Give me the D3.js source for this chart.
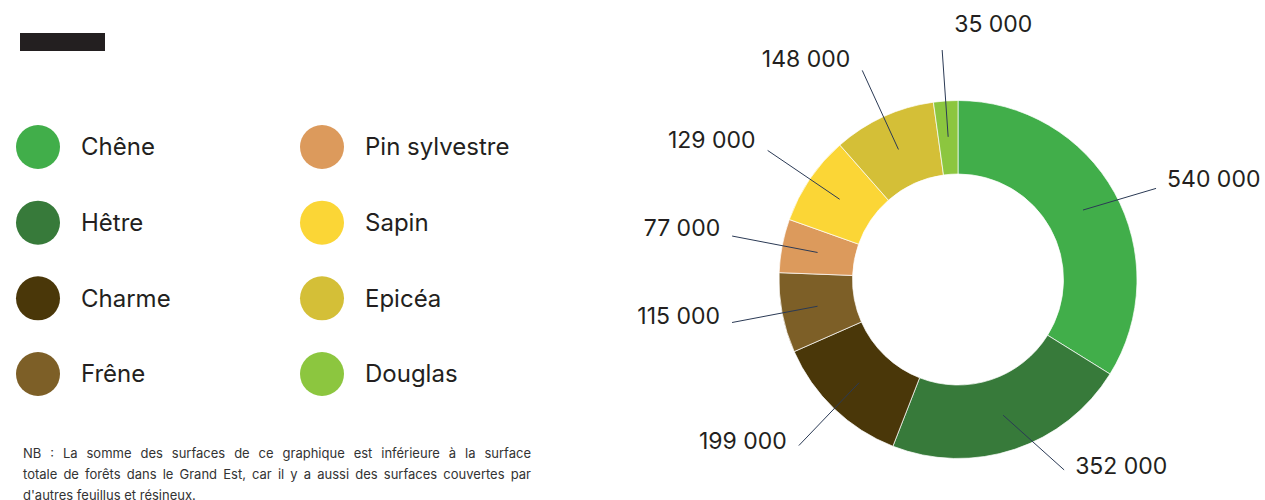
<!DOCTYPE html>
<html lang="fr">
<head>
<meta charset="utf-8">
<script src="https://cdn.jsdelivr.net/npm/d3@7"></script>
<style>
  html, body { margin: 0; padding: 0; background: #fff; }
  #wrap { position: relative; width: 1265px; height: 500px; overflow: hidden; font-family: Inter, "Open Sans", sans-serif; }
  svg { position: absolute; left: 0; top: 0; }
  #note { position: absolute; left: 23px; top: 443px; width: 508px; font-size: 13px; line-height: 21px; color: #333; }
  #note div { text-align: justify; text-align-last: justify; white-space: nowrap; }
  #note div:last-child { text-align-last: left; }
</style>
</head>
<body>
<div id="wrap">
  <svg id="chart" width="1265" height="500"></svg>
  <div id="note"></div>
</div>
<script>
// Surfaces forestières par essence (ha)
const categories = ["Chêne", "Hêtre", "Charme", "Frêne", "Pin sylvestre", "Sapin", "Epicéa", "Douglas"];
const surfaces = [540000, 352000, 199000, 115000, 77000, 129000, 148000, 35000];
const colors = ["#41ae4a", "#377a3a", "#4a3709", "#7d5f27", "#dc9a5c", "#fbd636", "#d4bf37", "#8cc63f"];
const noteLines = [
  "NB : La somme des surfaces de ce graphique est inférieure à la surface",
  "totale de forêts dans le Grand Est, car il y a aussi des surfaces couvertes par",
  "d'autres feuillus et résineux."
];

const data = categories.map((name, i) => ({ name, value: surfaces[i], color: colors[i] }));

const svg = d3.select("#chart");
const ink = "#231f20";
const lineColor = "#2b3a55";

// Header bar
svg.append("rect").attr("x", 20).attr("y", 33).attr("width", 85).attr("height", 18).attr("fill", ink);

// Legend: two columns of four entries
const legendRow = d3.scalePoint().domain(d3.range(4)).range([147, 374]);
const legendCol = d3.scalePoint().domain([0, 1]).range([38, 322]);
const legend = svg.append("g").selectAll("g").data(data).join("g")
  .attr("transform", (d, i) => `translate(${legendCol(Math.floor(i / 4))},${legendRow(i % 4)})`);
legend.append("circle").attr("r", 22).attr("fill", d => d.color);
legend.append("text")
  .attr("x", 43).attr("dy", "0.35em")
  .attr("font-size", 24).attr("fill", ink)
  .text(d => d.name);

// Donut
const cx = 958, cy = 279.5;
const outerR = 179, innerR = 105.5;
const pie = d3.pie().sort(null).value(d => d.value);
const arcs = pie(data);
const arc = d3.arc().innerRadius(innerR).outerRadius(outerR);

const g = svg.append("g").attr("transform", `translate(${cx},${cy})`);
g.selectAll("path").data(arcs).join("path")
  .attr("d", arc)
  .attr("fill", d => d.data.color)
  .attr("stroke", "#fff")
  .attr("stroke-opacity", 0.7)
  .attr("stroke-width", 1);

// Value labels with leader lines
const locale = d3.formatLocale({ decimal: ",", thousands: " ", grouping: [3], currency: ["", " €"] });
const fmt = locale.format(",");
const lineInR = 143;

const labels = arcs.map(a => {
  const mid = (a.startAngle + a.endAngle) / 2;
  const right = Math.sin(mid) > 0;
  // right-hand labels sit a little closer and are eased toward the horizontal
  const outA = right ? Math.PI / 2 + (mid - Math.PI / 2) * 0.85 : mid;
  const outR = right ? 218 : 230;
  const x1 = lineInR * Math.sin(mid), y1 = -lineInR * Math.cos(mid);
  const x2 = outR * Math.sin(outA), y2 = -outR * Math.cos(outA);
  const nearTop = Math.abs(Math.sin(outA)) < 0.1;
  let anchor, tx, ty;
  if (nearTop) {
    anchor = "start"; tx = x2 + 12; ty = y2 - 26;
  } else {
    anchor = right ? "start" : "end";
    tx = x2 + (right ? 11 : -12);
    ty = y2 - 7.5 - 4.5 * Math.cos(outA);
  }
  return { a, x1, y1, x2, y2, anchor, tx, ty };
});

g.selectAll("line.leader").data(labels).join("line")
  .attr("class", "leader")
  .attr("x1", d => d.x1).attr("y1", d => d.y1)
  .attr("x2", d => d.x2).attr("y2", d => d.y2)
  .attr("stroke", lineColor).attr("stroke-width", 1);

g.selectAll("text.value").data(labels).join("text")
  .attr("class", "value")
  .attr("x", d => d.tx).attr("y", d => d.ty).attr("dy", "0.35em")
  .attr("text-anchor", d => d.anchor)
  .attr("font-size", 23).attr("fill", ink)
  .text(d => fmt(d.a.data.value));

// Footnote
d3.select("#note").selectAll("div").data(noteLines).join("div").text(d => d);
</script>
</body>
</html>
